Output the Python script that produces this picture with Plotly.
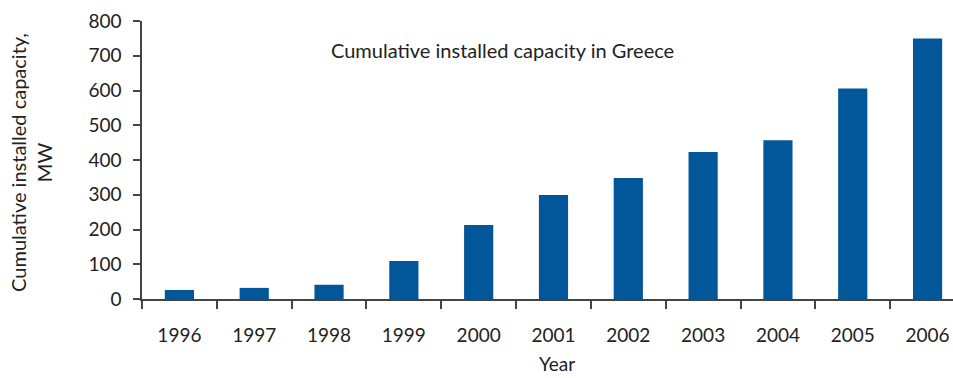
import plotly.graph_objects as go

years = ["1996", "1997", "1998", "1999", "2000", "2001", "2002", "2003", "2004", "2005", "2006"]
capacity = [26, 32, 41, 109, 213, 299, 348, 423, 457, 606, 750]
y_ticks = [0, 100, 200, 300, 400, 500, 600, 700, 800]

FONT = "Lato"
TXT = "#222222"

fig = go.Figure(go.Bar(x=years, y=capacity, marker_color="#02569A", width=0.39,
                       marker_line_width=0))

fig.update_layout(
    width=953, height=378,
    margin=dict(l=142, r=0, t=21, b=79),
    plot_bgcolor="white", paper_bgcolor="white",
    font=dict(family=FONT, size=19, color=TXT),
    showlegend=False,
)
fig.update_xaxes(
    type="category", range=[-0.5, 10.34],
    tickson="boundaries", ticks="outside", ticklen=8, tickwidth=1.5, tickcolor="#444",
    showline=True, linecolor="#444", linewidth=1.5,
    showgrid=False, zeroline=False,
    ticklabelstandoff=18,
    tickfont=dict(size=19, family=FONT, color=TXT),
)
fig.update_yaxes(
    range=[0, 800], tickvals=y_ticks, ticktext=[str(v) for v in y_ticks],
    ticks="outside", ticklen=7, tickwidth=1.5, tickcolor="#444",
    showline=True, linecolor="#444", linewidth=1.5,
    showgrid=False, zeroline=False,
    ticklabelstandoff=8,
    tickfont=dict(size=19, family=FONT, color=TXT),
)

fig.add_annotation(text="Cumulative installed capacity in Greece", xref="paper", yref="paper",
                   x=0.445, y=0.896, xanchor="center", yanchor="middle", showarrow=False,
                   font=dict(size=20, family=FONT, color=TXT))
fig.add_annotation(text="Cumulative installed capacity,<br>MW", xref="paper", yref="paper",
                   x=-0.1369, y=0.493, xanchor="center", yanchor="middle", showarrow=False,
                   textangle=-90, font=dict(size=20, family=FONT, color=TXT))
fig.add_annotation(text="Year", xref="paper", yref="paper",
                   x=0.512, y=-0.2806, xanchor="center", yanchor="bottom", showarrow=False,
                   font=dict(size=19, family=FONT, color=TXT))

fig.write_html("out.html")
